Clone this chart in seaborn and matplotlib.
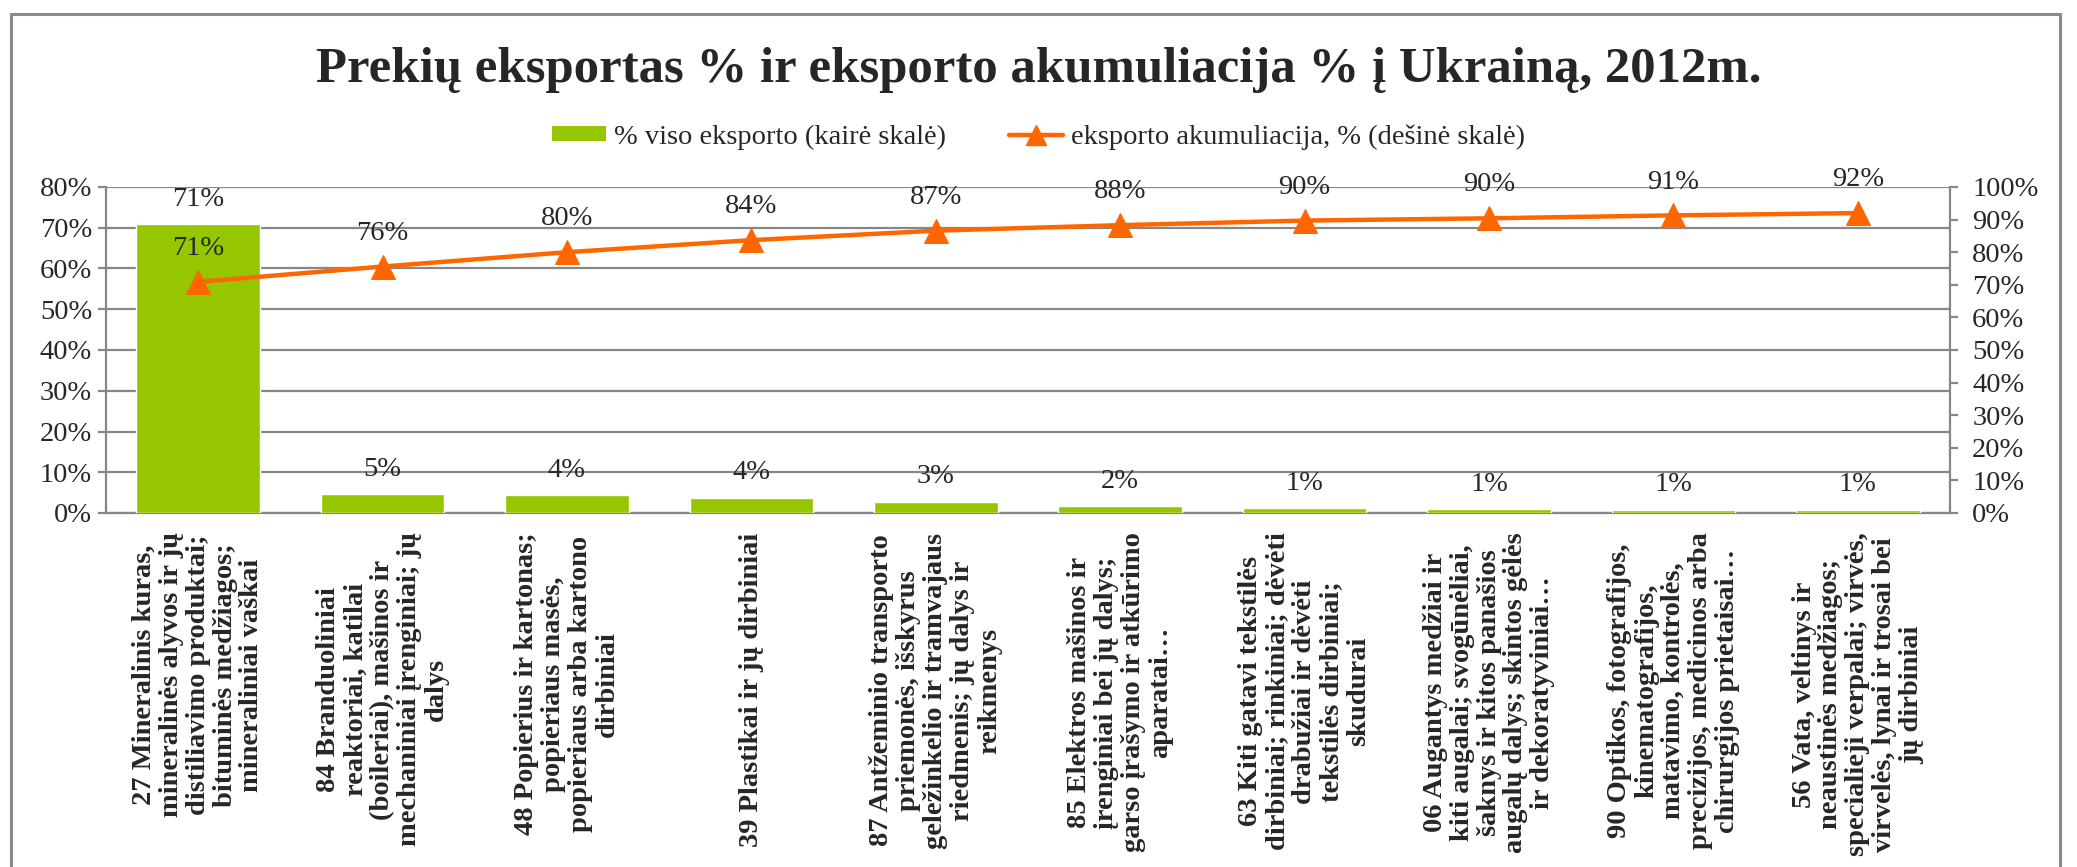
import matplotlib
matplotlib.use("Agg")
import matplotlib.pyplot as plt
import seaborn as sns
import numpy as np
from matplotlib.lines import Line2D
from matplotlib.patches import Patch
from matplotlib.ticker import FuncFormatter, MultipleLocator

# data
categories = [
    "27 Mineralinis kuras,\nmineralinės alyvos ir jų\ndistiliavimo produktai;\nbituminės medžiagos;\nmineraliniai vaškai",
    "84 Branduoliniai\nreaktoriai, katilai\n(boileriai), mašinos ir\nmechaniniai įrenginiai; jų\ndalys",
    "48 Popierius ir kartonas;\npopieriaus masės,\npopieriaus arba kartono\ndirbiniai",
    "39 Plastikai ir jų dirbiniai",
    "87 Antžeminio transporto\npriemonės, išskyrus\ngeležinkelio ir tramvajaus\nriedmenis; jų dalys ir\nreikmenys",
    "85 Elektros mašinos ir\nįrenginiai bei jų dalys;\ngarso įrašymo ir atkūrimo\naparatai…",
    "63 Kiti gatavi tekstilės\ndirbiniai; rinkiniai; dėvėti\ndrabužiai ir dėvėti\ntekstilės dirbiniai;\nskudurai",
    "06 Augantys medžiai ir\nkiti augalai; svogūnėliai,\nšaknys ir kitos panašios\naugalų dalys; skintos gėlės\nir dekoratyviniai…",
    "90 Optikos, fotografijos,\nkinematografijos,\nmatavimo, kontrolės,\nprecizijos, medicinos arba\nchirurgijos prietaisai…",
    "56 Vata, veltinys ir\nneaustinės medžiagos;\nspecialieji verpalai; virvės,\nvirvelės, lynai ir trosai bei\njų dirbiniai",
]
export_share = [70.9, 4.6, 4.4, 3.7, 2.8, 1.6, 1.2, 0.9, 0.8, 0.8]
cumulative = [70.9, 75.6, 80.0, 83.7, 86.6, 88.3, 89.7, 90.4, 91.3, 92.0]
share_labels = ["71%", "5%", "4%", "4%", "3%", "2%", "1%", "1%", "1%", "1%"]
cum_labels = ["71%", "76%", "80%", "84%", "87%", "88%", "90%", "90%", "91%", "92%"]

title = "Prekių eksportas % ir eksporto akumuliacija % į Ukrainą, 2012m."
bar_name = "% viso eksporto (kairė skalė)"
line_name = "eksporto akumuliacija, % (dešinė skalė)"

green = "#95C600"
orange = "#FF6600"
grey = "#878787"
fs = 20.5

sns.set_style("white")
plt.rcParams["font.family"] = ["Liberation Serif", "DejaVu Serif"]

W, H = 2077, 867
fig = plt.figure(figsize=(W / 100, H / 100), dpi=100)
ax = fig.add_axes([106 / W, 1 - 513 / H, (1950 - 106) / W, (513 - 187) / H])

x = np.arange(len(categories))
sns.barplot(x=x, y=export_share, color=green, width=0.67, saturation=1,
            ax=ax, zorder=3)
ax.set_ylim(0, 80)
ax.set_xlim(-0.5, len(categories) - 0.5)
ax.yaxis.set_major_locator(MultipleLocator(10))
ax.yaxis.set_major_formatter(FuncFormatter(lambda v, p: f"{v:.0f}%"))
ax.grid(axis="y", color=grey, linewidth=1.6, zorder=0)
ax.set_axisbelow(True)
ax.set_xticks(x)
ax.set_xticklabels(categories, rotation=90, fontweight="bold", fontsize=20.5,
                   multialignment="center", linespacing=1.1)
ax.set_xticks(np.arange(-0.5, len(categories)), minor=True)
ax.tick_params(axis="x", which="major", length=0, pad=14)
ax.tick_params(axis="x", which="minor", length=6, width=1.6, color=grey)
ax.tick_params(axis="y", length=6, width=1.6, color=grey, labelsize=fs,
               pad=4, left=True)
ax.set_xlabel("")
for s in ["top", "right"]:
    ax.spines[s].set_visible(False)
for s in ["left", "bottom"]:
    ax.spines[s].set_color(grey)
    ax.spines[s].set_linewidth(1.6)

for xi, v, lab in zip(x, export_share, share_labels):
    ax.annotate(lab, (xi, v), xytext=(0, 18), textcoords="offset points",
                ha="center", va="center", fontsize=fs)

ax2 = ax.twinx()
sns.lineplot(x=x, y=cumulative, sort=False, color=orange, linewidth=3.2,
             marker="^", markersize=17, markeredgecolor=orange, ax=ax2,
             zorder=5)
ax2.set_ylim(0, 100)
ax2.yaxis.set_major_locator(MultipleLocator(10))
ax2.yaxis.set_major_formatter(FuncFormatter(lambda v, p: f"{v:.0f}%"))
ax2.tick_params(axis="y", length=6, width=1.6, color=grey, labelsize=fs,
                pad=10, right=True)
for s in ["top", "left", "bottom"]:
    ax2.spines[s].set_visible(False)
ax2.spines["right"].set_color(grey)
ax2.spines["right"].set_linewidth(1.6)
ax2.set_ylabel("")

for xi, v, lab in zip(x, cumulative, cum_labels):
    ax2.annotate(lab, (xi, v), xytext=(0, 24), textcoords="offset points",
                 ha="center", va="center", fontsize=fs)

fig.text(0.5, 1 - 70 / H, title, ha="center", va="center",
         fontsize=36.5, fontweight="bold")

handles = [
    Patch(facecolor=green, edgecolor="none", label=bar_name),
    Line2D([], [], color=orange, linewidth=3.2, marker="^", markersize=14,
           label=line_name),
]
fig.legend(handles=handles, loc="center", bbox_to_anchor=(0.5, 1 - 137 / H),
           ncol=2, frameon=False, fontsize=fs, handlelength=1.9,
           handleheight=0.46, handletextpad=0.3, columnspacing=2.2)

# outer chart frame (bottom edge runs off the image)
frame = plt.Rectangle((11 / W, -0.05), (2060 - 11) / W, 1.05 - 14 / H,
                      transform=fig.transFigure, fill=False,
                      edgecolor="#8A8A8A", linewidth=2.2)
fig.add_artist(frame)

fig.savefig("out.png", dpi=100, facecolor="white")
